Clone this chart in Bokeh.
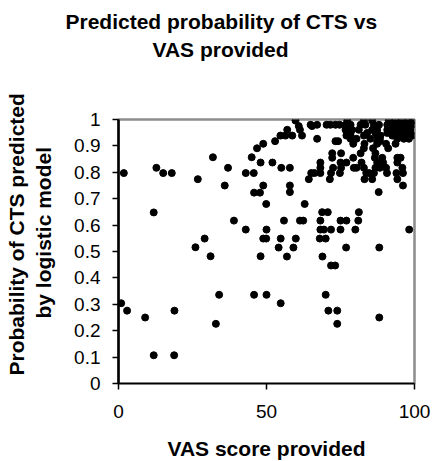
import math
from bokeh.plotting import figure
from bokeh.models import Title, FixedTicker, NumeralTickFormatter, Range1d
from bokeh.embed import file_html
from bokeh.resources import INLINE

title_lines = ["Predicted probability of CTS vs", "VAS provided"]
y_label_lines = ["Probability of CTS predicted", "by logistic model"]
x_label = "VAS score provided"
x_ticks = [0, 50, 100]
y_ticks = [0, 0.1, 0.2, 0.3, 0.4, 0.5, 0.6, 0.7, 0.8, 0.9, 1.0]

vas = [
    0.9, 1.8, 2.9, 9.0, 11.9, 18.8, 11.9, 12.8, 15.1, 18.0, 18.9,
    26.0, 26.8, 29.1, 31.1, 31.9, 32.9, 34.0, 35.9, 37.0, 39.0,
    43.0, 43.0, 45.0, 45.7, 45.8, 45.8, 46.8, 47.8,
    48.0, 48.0, 48.9, 48.9, 48.9, 49.9, 49.9, 50.0, 50.0,
    52.0, 52.9, 54.1, 54.8, 54.8, 55.0, 55.9, 54.7, 56.4, 56.9, 57.0, 57.9, 57.9, 57.9, 58.7, 59.1, 59.8, 59.9,
    60.9, 61.3, 62.4, 61.3, 62.0, 62.9, 64.3, 64.9, 65.1, 65.4, 66.2, 67.1, 67.1,
    68.0, 68.2, 68.2, 68.2, 68.2, 68.2, 68.8, 68.9, 69.4, 70.0, 70.0, 70.3, 70.7, 70.9,
    71.4, 71.6, 71.8, 71.8, 71.8, 72.2, 72.2, 72.5, 73.2, 73.3, 73.3, 73.9, 73.9, 74.2, 74.7, 74.8,
    75.0, 75.0, 75.0, 75.2, 75.2, 76.7, 76.7, 76.9, 77.0, 77.0, 77.0, 77.3, 78.4, 78.4, 78.4, 78.4, 78.9, 79.3, 79.3, 79.5,
    80.0, 80.4, 80.4, 81.0, 81.2, 81.2, 81.8, 81.8, 82.1, 82.9, 82.9, 82.9, 82.9, 83.1, 83.1, 83.4, 83.7, 84.0, 84.7, 85.1, 85.7, 85.7, 85.7,
    86.0, 86.3, 86.3, 86.6, 86.8, 86.8, 86.8, 87.4, 87.4, 87.4, 87.4, 87.4, 87.9, 88.0, 88.1, 88.1, 88.3, 88.3, 88.3, 88.5, 89.1, 89.4,
    90.4, 90.4, 90.7, 90.8, 90.8, 90.8, 91.1, 91.3, 92.5, 92.5, 93.0, 93.6, 93.6, 93.9, 94.2, 94.2, 94.2, 94.2, 94.2, 94.2,
    95.3, 95.3, 95.3, 95.8, 95.9, 96.1, 96.1, 96.4, 96.4, 96.4, 97.5, 97.5, 98.0, 98.1, 98.2, 98.6, 98.6, 99.2, 99.2, 99.4,
]
prob = [
    0.304, 0.797, 0.276, 0.25, 0.107, 0.107, 0.648, 0.817, 0.797, 0.797, 0.276,
    0.516, 0.774, 0.549, 0.482, 0.857, 0.226, 0.336, 0.75, 0.817, 0.617,
    0.797, 0.583, 0.857, 0.797, 0.723, 0.336, 0.891, 0.723,
    0.837, 0.482, 0.908, 0.75, 0.549, 0.549, 0.68, 0.583, 0.336,
    0.837, 0.918, 0.515, 0.549, 0.304, 0.817, 0.617, 0.939, 0.939, 0.481, 0.961, 0.817, 0.725, 0.75, 0.939, 0.515, 0.996, 0.549,
    0.975, 0.617, 0.617, 0.961, 0.939, 0.68, 0.774, 0.98, 0.797, 0.975, 0.797, 0.98, 0.927,
    0.549, 0.583, 0.617, 0.797, 0.817, 0.837, 0.649, 0.481, 0.583, 0.549, 0.336, 0.98, 0.649, 0.276,
    0.774, 0.98, 0.583, 0.797, 0.447, 0.855, 0.872, 0.817, 0.447, 0.918, 0.98, 0.276, 0.226, 0.918, 0.98, 0.797,
    0.583, 0.617, 0.837, 0.817, 0.872, 0.961, 0.98, 0.515, 0.617, 0.837, 0.939, 0.996, 0.927, 0.939, 0.949, 0.98, 0.961, 0.855, 0.908, 0.817,
    0.583, 0.817, 0.927, 0.617, 0.649, 0.961, 0.872, 0.98, 0.837, 0.817, 0.891, 0.939, 0.996, 0.774, 0.908, 0.98, 0.797, 0.949, 0.797, 0.927, 0.774, 0.961, 0.996,
    0.891, 0.797, 0.98, 0.855, 0.817, 0.872, 0.949, 0.837, 0.908, 0.918, 0.939, 0.961, 0.725, 0.98, 0.515, 0.25, 0.817, 0.918, 0.927, 0.939, 0.855, 0.837,
    0.817, 0.908, 0.797, 0.949, 0.961, 0.98, 0.891, 0.996, 0.939, 0.961, 0.98, 0.908, 0.996, 0.797, 0.774, 0.837, 0.855, 0.927, 0.949, 0.961,
    0.855, 0.939, 0.98, 0.996, 0.817, 0.75, 0.797, 0.927, 0.949, 0.961, 0.939, 0.98, 0.996, 0.927, 0.583, 0.949, 0.961, 0.939, 0.98, 0.996,
]

FONT = "Liberation Sans"

p = figure(frame_width=296, frame_height=264, min_border_left=118, min_border_right=19,
           min_border_top=119, min_border_bottom=78,
           x_range=Range1d(0, 100), y_range=Range1d(0, 1),
           output_backend="svg", toolbar_location=None, title=None,
           background_fill_color="white", border_fill_color="white")

p.scatter(vas, prob, size=7, color="black", marker="circle")

p.xgrid.visible = False
p.ygrid.visible = False
p.outline_line_color = "#8c8c8c"
p.outline_line_width = 2.5

for ax in (p.xaxis[0], p.yaxis[0]):
    ax.axis_line_color = "black"
    ax.major_tick_line_color = "black"
    ax.minor_tick_line_color = None
    ax.major_tick_in = 0
    ax.major_tick_out = 6
    ax.major_label_text_font = FONT
    ax.major_label_text_font_size = "19px"
    ax.major_label_text_color = "black"

p.yaxis[0].axis_line_width = 2.5
p.yaxis[0].major_tick_line_width = 1.5
p.xaxis[0].axis_line_width = 1.5
p.xaxis[0].major_tick_line_width = 1.5
p.xaxis[0].ticker = FixedTicker(ticks=x_ticks)
p.yaxis[0].ticker = FixedTicker(ticks=y_ticks)
p.yaxis[0].formatter = NumeralTickFormatter(format="0.[0]")
p.xaxis[0].formatter = NumeralTickFormatter(format="0")
p.yaxis[0].major_label_standoff = 12
p.xaxis[0].major_label_standoff = 15

p.xaxis[0].axis_label = x_label
p.xaxis[0].axis_label_text_font = FONT
p.xaxis[0].axis_label_text_font_size = "21px"
p.xaxis[0].axis_label_text_font_style = "bold"
p.xaxis[0].axis_label_text_color = "black"
p.xaxis[0].axis_label_standoff = 16

def ttl(text, offset, standoff, size="21px"):
    return Title(text=text, align="left", offset=offset, standoff=standoff,
                 text_font=FONT, text_font_size=size, text_font_style="bold",
                 text_color="black")

# above: first added is nearest the frame (first one is an invisible spacer)
p.add_layout(ttl(" ", 0, 53, "2px"), "above")
p.add_layout(ttl(title_lines[1], 34, 4), "above")
p.add_layout(ttl(title_lines[0], -53, 2), "above")
# left: first added is nearest the axis (first one is an invisible spacer)
p.add_layout(ttl(" ", 0, 12, "2px"), "left")
p.add_layout(ttl(y_label_lines[1], 65, 2), "left")
p.add_layout(ttl(y_label_lines[0], 8, 2), "left")

open("out.html", "w").write(file_html(p, INLINE))
